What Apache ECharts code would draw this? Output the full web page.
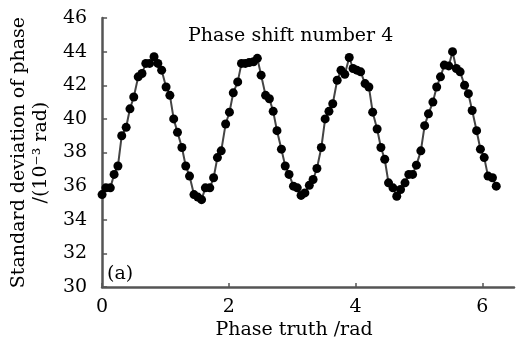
<!DOCTYPE html>
<html>
<head>
<meta charset="utf-8">
<script src="https://cdn.jsdelivr.net/npm/echarts@6/dist/echarts.min.js"></script>
<style>
  html, body { margin: 0; padding: 0; background: #fff; }
  #chart { width: 518px; height: 345px; }
</style>
</head>
<body>
<div id="chart"></div>
<script>
// phase truth (rad), one sample per step
const phase = [
  0.00, 0.06, 0.13, 0.19, 0.25, 0.31, 0.38, 0.44, 0.50, 0.57,
  0.63, 0.69, 0.75, 0.82, 0.88, 0.94, 1.01, 1.07, 1.13, 1.19,
  1.26, 1.32, 1.38, 1.45, 1.51, 1.57, 1.63, 1.70, 1.76, 1.82,
  1.88, 1.95, 2.01, 2.07, 2.14, 2.20, 2.26, 2.32, 2.39, 2.45,
  2.51, 2.58, 2.64, 2.70, 2.76, 2.83, 2.89, 2.95, 3.02, 3.08,
  3.14, 3.20, 3.27, 3.33, 3.39, 3.46, 3.52, 3.58, 3.64, 3.71,
  3.77, 3.83, 3.90, 3.96, 4.02, 4.08, 4.15, 4.21, 4.27, 4.34,
  4.40, 4.46, 4.52, 4.59, 4.65, 4.71, 4.78, 4.84, 4.90, 4.96,
  5.03, 5.09, 5.15, 5.22, 5.28, 5.34, 5.40, 5.47, 5.53, 5.59,
  5.65, 5.72, 5.78, 5.84, 5.91, 5.97, 6.03, 6.09, 6.16, 6.22
]

// standard deviation of phase, 10^-3 rad
const stdDev = [
  35.5, 35.9, 35.9, 36.7, 37.2, 39.0, 39.5, 40.6, 41.3, 42.5,
  42.7, 43.3, 43.3, 43.7, 43.3, 42.9, 41.9, 41.4, 40.0, 39.2,
  38.3, 37.2, 36.6, 35.5, 35.35, 35.2, 35.9, 35.9, 36.5, 37.7,
  38.1, 39.7, 40.4, 41.55, 42.2, 43.3, 43.3, 43.35, 43.4, 43.6,
  42.6, 41.4, 41.2, 40.45, 39.3, 38.2, 37.2, 36.7, 36.0, 35.9,
  35.45, 35.6, 36.05, 36.4, 37.05, 38.3, 40.0, 40.45, 40.9, 42.3,
  42.9, 42.65, 43.65, 43.0, 42.9, 42.8, 42.1, 41.9, 40.4, 39.4,
  38.3, 37.6, 36.2, 35.9, 35.4, 35.8, 36.2, 36.7, 36.7, 37.25,
  38.1, 39.6, 40.3, 41.0, 41.9, 42.5, 43.2, 43.15, 44.0, 43.0,
  42.8, 42.0, 41.5, 40.5, 39.3, 38.2, 37.7, 36.6, 36.5, 36.0
]

const xTicks = [0, 2, 4, 6]

const font = 'DejaVu Serif'
const axisColor = '#555'

const chart = echarts.init(document.getElementById('chart'), null, { renderer: 'canvas' })

chart.setOption({
  animation: false,
  backgroundColor: '#fff',
  textStyle: { fontFamily: font, color: '#000' },
  title: [
    {
      text: 'Phase shift number 4',
      left: 188,
      top: 27,
      padding: 0,
      textStyle: { fontFamily: font, fontSize: 19, fontWeight: 'normal', color: '#000' }
    },
    {
      text: '(a)',
      left: 107,
      top: 265,
      padding: 0,
      textStyle: { fontFamily: font, fontSize: 19, fontWeight: 'normal', color: '#000' }
    }
  ],
  grid: { left: 95, right: 4, top: 18, bottom: 52 },
  xAxis: {
    type: 'value',
    min: 0,
    max: 6.5,
    interval: 2,
    name: 'Phase truth /rad',
    nameLocation: 'middle',
    nameGap: 30,
    nameTextStyle: { fontFamily: font, fontSize: 19, color: '#000', padding: [0, 28, 0, 0] },
    axisLine: { lineStyle: { color: axisColor, width: 2.5 } },
    axisTick: { inside: true, length: 4, customValues: xTicks, lineStyle: { color: axisColor, width: 1.5 } },
    axisLabel: { customValues: xTicks, margin: 10, fontFamily: font, fontSize: 19, color: '#000' },
    splitLine: { show: false }
  },
  yAxis: {
    type: 'value',
    min: 30,
    max: 46,
    interval: 2,
    name: 'Standard deviation of phase\n/(10⁻³ rad)',
    nameLocation: 'middle',
    nameRotate: 90,
    nameGap: 37,
    nameTextStyle: { fontFamily: font, fontSize: 19, color: '#000', lineHeight: 22 },
    axisLine: { lineStyle: { color: axisColor, width: 2.5 } },
    axisTick: { inside: true, length: 5, lineStyle: { color: axisColor, width: 1.5 } },
    axisLabel: { margin: 15, fontFamily: font, fontSize: 19, color: '#000' },
    splitLine: { show: false }
  },
  series: [
    {
      type: 'line',
      data: phase.map((p, i) => [p, stdDev[i]]),
      symbol: 'circle',
      symbolSize: 9,
      itemStyle: { color: '#000' },
      lineStyle: { color: '#444', width: 2 }
    }
  ]
})
</script>
</body>
</html>
